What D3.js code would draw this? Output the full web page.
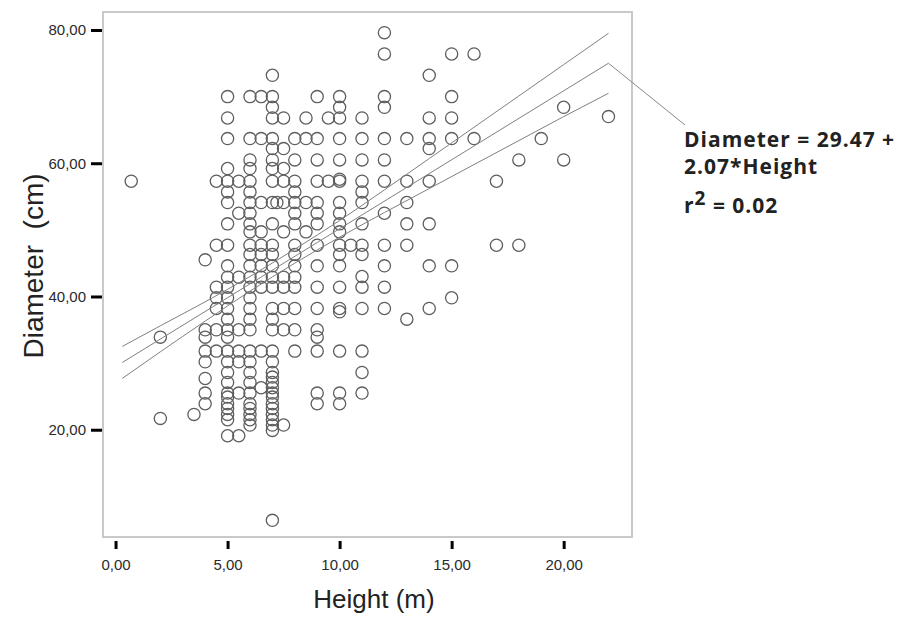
<!DOCTYPE html>
<html>
<head>
<meta charset="utf-8">
<script src="https://cdnjs.cloudflare.com/ajax/libs/d3/7.8.5/d3.min.js"></script>
<style>
  body { margin: 0; background: #fff; }
  svg { display: block; }
</style>
</head>
<body>
<svg id="chart" width="903" height="622"></svg>
<script>
// heights (m) that hold points, and the diameters (cm) read at each height
var heightCols = [0.7, 2, 3.5, 4, 4.5, 5, 5.5, 6, 6.5, 7, 7.2, 7.5, 8, 8.5, 9, 9.5, 10, 10.5, 11, 12, 13, 14, 15, 16, 17, 18, 19, 20, 22];
var diamCols = [
  [57.3],
  [33.9, 21.7],
  [22.3],
  [45.5, 35.0, 33.9, 31.8, 30.2, 27.7, 25.5, 23.9],
  [57.3, 47.7, 41.4, 39.8, 38.2, 35.0, 31.8],
  [70.0, 66.8, 63.7, 59.2, 57.3, 55.7, 54.1, 50.9, 47.7, 44.6, 42.9, 41.4, 39.8, 38.2, 36.6, 35.0, 33.9, 31.8, 30.2, 28.6, 27.1, 25.5, 24.9, 23.9, 23.2, 22.3, 21.5, 19.1],
  [57.3, 52.5, 42.9, 35.0, 31.8, 30.2, 25.5, 19.1],
  [70.0, 63.7, 60.5, 59.2, 57.3, 55.7, 54.1, 52.5, 50.9, 49.7, 47.7, 46.3, 44.6, 42.9, 41.4, 39.8, 38.2, 36.6, 35.0, 31.8, 30.2, 28.6, 27.1, 25.5, 23.9, 23.2, 22.3, 21.5, 20.7],
  [70.0, 63.7, 54.1, 49.7, 47.7, 46.3, 44.6, 42.9, 41.4, 31.8, 26.3],
  [73.2, 70.0, 68.4, 66.8, 63.7, 62.2, 60.5, 59.2, 57.3, 54.1, 50.9, 47.7, 46.3, 44.6, 42.9, 41.4, 38.2, 36.6, 35.0, 31.8, 30.2, 28.6, 27.9, 27.1, 26.3, 25.5, 24.9, 23.9, 23.2, 22.3, 21.5, 20.7, 19.9, 6.4],
  [54.1],
  [66.8, 62.2, 59.2, 57.3, 54.1, 49.7, 42.9, 41.4, 38.2, 35.0, 20.7],
  [63.7, 60.5, 57.3, 55.7, 54.1, 52.5, 50.9, 47.7, 46.3, 44.6, 42.9, 41.4, 38.2, 35.0, 31.8],
  [66.8, 63.7, 54.1, 49.7],
  [70.0, 63.7, 60.5, 57.3, 54.1, 52.5, 50.9, 47.7, 44.6, 41.4, 38.2, 35.0, 33.9, 31.8, 25.5, 23.9],
  [66.8, 57.3],
  [70.0, 68.4, 66.8, 63.7, 60.5, 57.3, 57.6, 54.1, 52.5, 50.9, 49.7, 47.7, 46.3, 44.6, 41.4, 38.2, 37.7, 31.8, 25.5, 23.9],
  [47.7],
  [66.8, 63.7, 60.5, 57.3, 55.7, 54.1, 50.9, 47.7, 46.3, 43.0, 41.4, 38.2, 31.8, 28.6, 25.5],
  [79.6, 76.4, 70.0, 68.4, 63.7, 60.5, 57.3, 52.5, 47.7, 44.6, 41.4, 38.2],
  [63.7, 57.3, 54.1, 50.9, 47.7, 36.6],
  [73.2, 66.8, 63.7, 62.2, 57.3, 50.9, 44.6, 38.2],
  [76.4, 70.0, 66.8, 63.7, 44.6, 39.8],
  [76.4, 63.7],
  [57.3, 47.7],
  [60.5, 47.7],
  [63.7],
  [68.4, 60.5],
  [67.0]
];

// fit: Diameter = 29.47 + 2.07*Height, and the 95% band
var fitIntercept = 29.47;
var fitSlope = 2.07;
var fitRange = [0.3, 22];
var bandX = [0.3, 2, 4, 6, 8, 10, 12, 14, 16, 18, 20, 22];
var bandUpper = [32.5, 35.6, 39.2, 43.0, 47.1, 51.4, 56.0, 60.7, 65.4, 70.1, 74.8, 79.5];
var bandLower = [27.7, 31.7, 36.3, 40.8, 45.0, 48.9, 52.6, 56.2, 59.8, 63.4, 67.0, 70.5];

var xTicks = [0, 5, 10, 15, 20];
var yTicks = [20, 40, 60, 80];

var svg = d3.select("#chart");

var x = d3.scaleLinear().domain([-0.56, 23.05]).range([103, 632]);
var y = d3.scaleLinear().domain([3.9, 82.7]).range([537, 12]);

var fmt = function(d) { return d3.format(".2f")(d).replace(".", ","); };

// frame
svg.append("rect")
  .attr("x", x.range()[0]).attr("y", y.range()[1])
  .attr("width", x.range()[1] - x.range()[0])
  .attr("height", y.range()[0] - y.range()[1])
  .attr("fill", "none")
  .attr("stroke", "#c9c9c9")
  .attr("stroke-width", 2);

// axes
var xAxis = svg.append("g")
  .attr("transform", "translate(0,541)")
  .call(d3.axisBottom(x).tickValues(xTicks).tickSize(8).tickPadding(10).tickFormat(fmt));
var yAxis = svg.append("g")
  .attr("transform", "translate(102,0)")
  .call(d3.axisLeft(y).tickValues(yTicks).tickSize(11).tickPadding(5).tickFormat(fmt));

[xAxis, yAxis].forEach(function(ax) {
  ax.select(".domain").remove();
  ax.selectAll(".tick line").attr("stroke", "#000").attr("stroke-width", 3);
  ax.selectAll(".tick text")
    .attr("fill", "#2a2a2a")
    .style("font-family", "'Liberation Sans', Arial, sans-serif")
    .style("font-size", "15px");
});

// axis titles
svg.append("text")
  .attr("x", 374).attr("y", 608)
  .attr("text-anchor", "middle")
  .attr("fill", "#222")
  .style("font-family", "'Liberation Sans', Arial, sans-serif")
  .style("font-size", "26px")
  .text("Height (m)");

svg.append("text")
  .attr("transform", "translate(43,266) rotate(-90)")
  .attr("text-anchor", "middle")
  .attr("fill", "#222")
  .style("font-family", "'Liberation Sans', Arial, sans-serif")
  .style("font-size", "28px")
  .style("white-space", "pre")
  .text("Diameter  (cm)");

// points
var points = [];
heightCols.forEach(function(h, i) {
  diamCols[i].forEach(function(d) { points.push({h: h, d: d}); });
});

svg.append("g").selectAll("circle")
  .data(points)
  .enter().append("circle")
  .attr("cx", function(p) { return x(p.h); })
  .attr("cy", function(p) { return y(p.d); })
  .attr("r", 6.1)
  .attr("fill", "none")
  .attr("stroke", "#5e5e5e")
  .attr("stroke-width", 1.3);

// fit line and band
var line = d3.line().x(function(p) { return x(p[0]); }).y(function(p) { return y(p[1]); });
var fitPts = fitRange.map(function(h) { return [h, fitIntercept + fitSlope * h]; });

svg.append("path").datum(fitPts).attr("d", line)
  .attr("fill", "none").attr("stroke", "#808080").attr("stroke-width", 1);
svg.append("path").datum(bandX.map(function(h, i) { return [h, bandUpper[i]]; }))
  .attr("d", line.curve(d3.curveMonotoneX))
  .attr("fill", "none").attr("stroke", "#808080").attr("stroke-width", 1);
svg.append("path").datum(bandX.map(function(h, i) { return [h, bandLower[i]]; }))
  .attr("d", line.curve(d3.curveMonotoneX))
  .attr("fill", "none").attr("stroke", "#808080").attr("stroke-width", 1);

// label leader
var end = fitPts[1];
svg.append("line")
  .attr("x1", x(end[0])).attr("y1", y(end[1]))
  .attr("x2", 685).attr("y2", 125)
  .attr("stroke", "#888").attr("stroke-width", 1);

var lab = svg.append("g")
  .attr("fill", "#222")
  .style("font-family", "'Open Sans', sans-serif")
  .style("font-weight", "700")
  .style("font-size", "21px")
  .style("letter-spacing", "1px");
lab.append("text").attr("x", 684).attr("y", 147).text("Diameter = 29.47 +");
lab.append("text").attr("x", 684).attr("y", 174).text("2.07*Height");
var r2 = lab.append("text").attr("x", 684).attr("y", 213);
r2.append("tspan").text("r");
r2.append("tspan").attr("dy", -8).style("font-size", "19px").text("2");
r2.append("tspan").attr("dy", 8).text(" = 0.02");
</script>
</body>
</html>
